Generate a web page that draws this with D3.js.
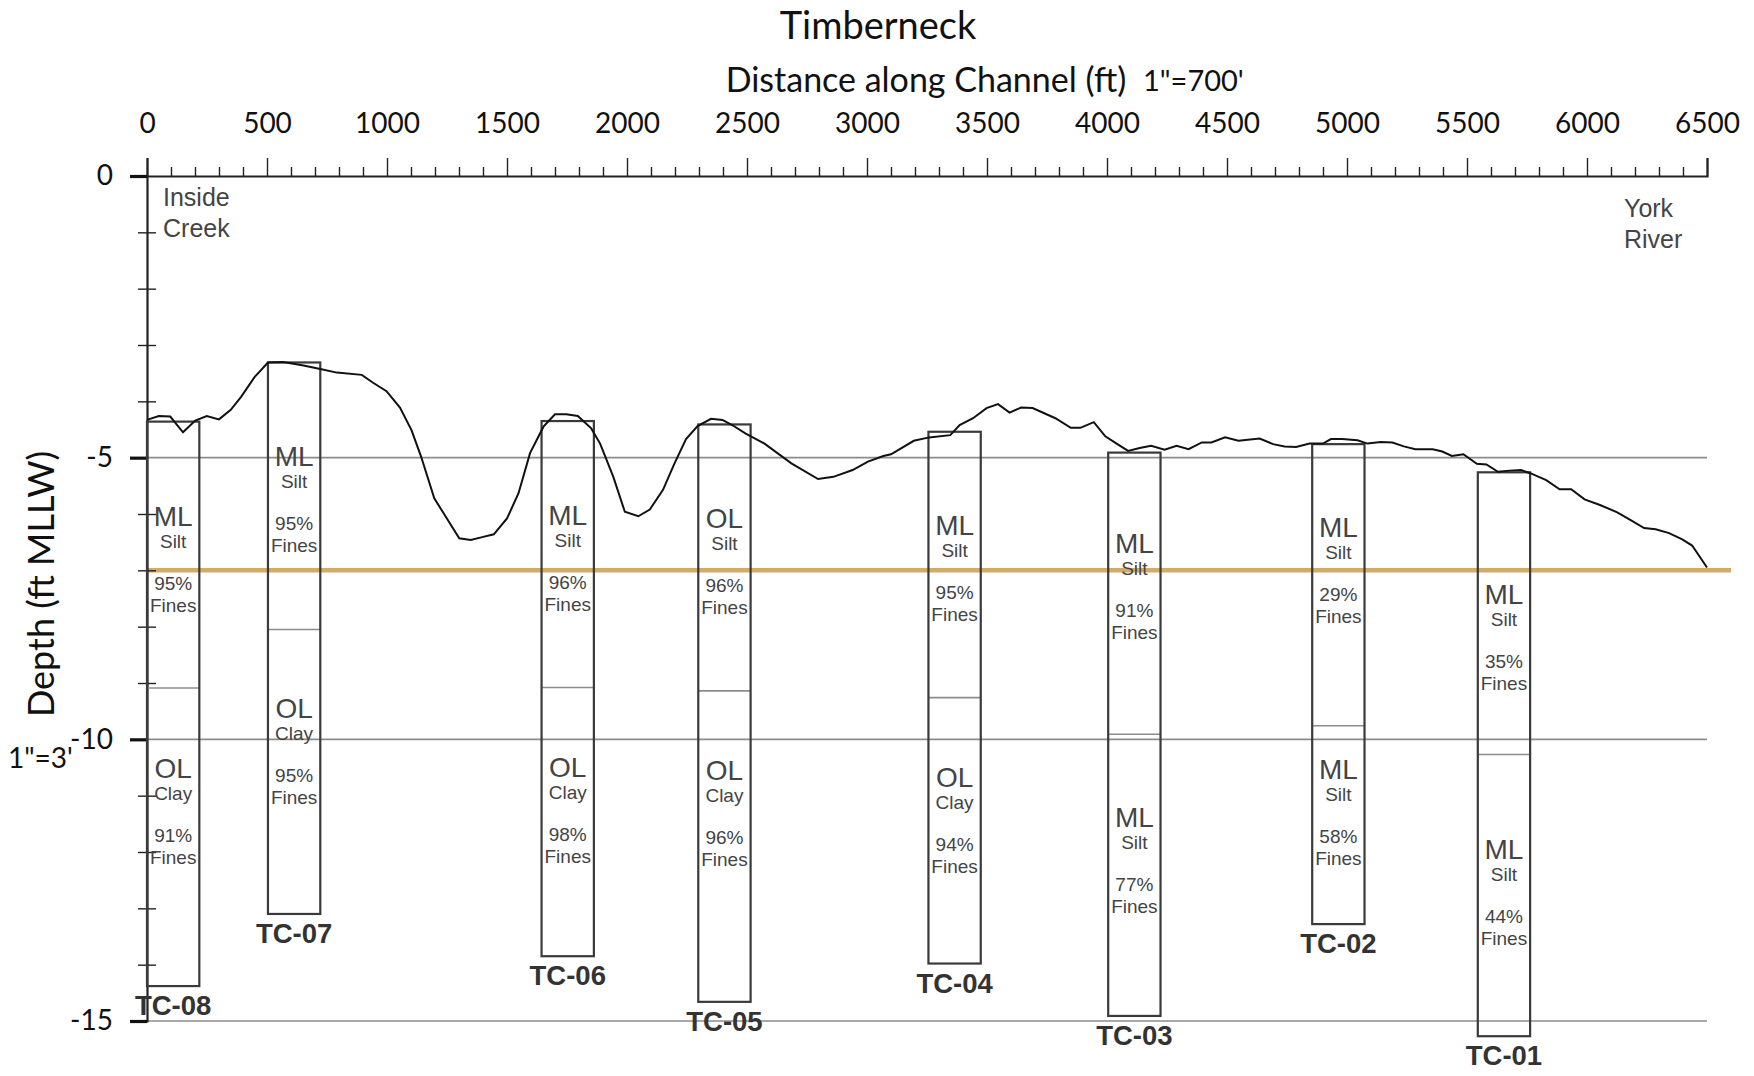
<!DOCTYPE html>
<html>
<head>
<meta charset="utf-8">
<script src="https://cdn.jsdelivr.net/npm/d3@7"></script>
<style>
  body { margin: 0; background: #fff; }
  svg { display: block; }
</style>
</head>
<body>
<div id="chart"></div>
<script>
// Timberneck channel profile with sediment core logs

const width = 1754;
const height = 1076;

// ---- data ----
const profileFt = [0, 49, 97, 150, 201, 249, 300, 349, 392, 448, 504, 567, 647, 727, 791, 895, 942, 998,
  1054, 1102, 1142, 1197, 1245, 1301, 1349, 1397, 1445, 1500, 1548, 1596, 1652, 1700, 1747, 1795, 1851,
  1888, 1943, 1991, 2047, 2095, 2150, 2198, 2246, 2294, 2350, 2398, 2438, 2493, 2573, 2685, 2796, 2860,
  2940, 3004, 3068, 3100, 3195, 3259, 3347, 3386, 3442, 3498, 3546, 3594, 3642, 3690, 3785, 3849, 3889,
  3945, 3993, 4040, 4088, 4136, 4184, 4240, 4290, 4340, 4395, 4435, 4492, 4548, 4636, 4692, 4740, 4788,
  4844, 4900, 4933, 4980, 5044, 5085, 5141, 5189, 5237, 5285, 5357, 5397, 5437, 5485, 5541, 5581, 5629,
  5677, 5725, 5766, 5830, 5886, 5934, 5990, 6054, 6126, 6182, 6238, 6286, 6342, 6397, 6438, 6500];
const profileDepth = [-4.33, -4.26, -4.27, -4.55, -4.34, -4.26, -4.32, -4.15, -3.92, -3.57, -3.31, -3.30,
  -3.36, -3.43, -3.49, -3.53, -3.67, -3.82, -4.11, -4.51, -4.98, -5.72, -6.05, -6.43, -6.46, -6.41, -6.36,
  -6.08, -5.63, -4.92, -4.45, -4.23, -4.23, -4.26, -4.48, -4.75, -5.34, -5.96, -6.04, -5.92, -5.57, -5.10,
  -4.67, -4.44, -4.31, -4.33, -4.42, -4.57, -4.75, -5.10, -5.38, -5.34, -5.22, -5.07, -4.97, -4.94, -4.70,
  -4.64, -4.60, -4.42, -4.30, -4.12, -4.05, -4.20, -4.11, -4.12, -4.30, -4.47, -4.47, -4.37, -4.62, -4.75,
  -4.88, -4.83, -4.79, -4.86, -4.79, -4.85, -4.73, -4.73, -4.64, -4.70, -4.66, -4.76, -4.80, -4.81, -4.75,
  -4.75, -4.67, -4.67, -4.69, -4.75, -4.72, -4.73, -4.80, -4.85, -4.85, -4.89, -4.97, -4.94, -5.11, -5.12,
  -5.25, -5.23, -5.22, -5.28, -5.40, -5.56, -5.56, -5.74, -5.84, -5.97, -6.11, -6.25, -6.27, -6.34, -6.45,
  -6.56, -6.95];

const coreIds = ['TC-08', 'TC-07', 'TC-06', 'TC-05', 'TC-04', 'TC-03', 'TC-02', 'TC-01'];
const coreLeftFt = [0, 504, 1644, 2297, 3256, 4005, 4855, 5545];
const coreTop = [-4.36, -3.31, -4.35, -4.41, -4.54, -4.91, -4.76, -5.26];
const coreBreak = [-9.09, -8.05, -9.08, -9.14, -9.26, -9.91, -9.76, -10.27];
const coreBottom = [-14.38, -13.10, -13.85, -14.66, -13.98, -14.91, -13.28, -15.27];
const upperCode = ['ML', 'ML', 'ML', 'OL', 'ML', 'ML', 'ML', 'ML'];
const upperSoil = ['Silt', 'Silt', 'Silt', 'Silt', 'Silt', 'Silt', 'Silt', 'Silt'];
const upperFines = [95, 95, 96, 96, 95, 91, 29, 35];
const upperLabelDepth = [-6.03, -4.97, -6.01, -6.07, -6.19, -6.51, -6.23, -7.42];
const lowerCode = ['OL', 'OL', 'OL', 'OL', 'OL', 'ML', 'ML', 'ML'];
const lowerSoil = ['Clay', 'Clay', 'Clay', 'Clay', 'Clay', 'Silt', 'Silt', 'Silt'];
const lowerFines = [91, 95, 98, 96, 94, 77, 58, 44];
const lowerLabelDepth = [-10.51, -9.45, -10.49, -10.55, -10.66, -11.38, -10.53, -11.94];

const xMajorTicks = d3.range(0, 6501, 500);
const xMinorTicks = d3.range(0, 6501, 100).filter(d => d % 500 !== 0);
const yMajorTicks = [0, -5, -10, -15];
const yMinorTicks = d3.range(-1, -15, -1).filter(d => d % 5 !== 0);
const gridDepths = [-5, -10, -15];
const designDepth = -7;

const CORE_WIDTH_FT = 218;

const svg = d3.select('#chart')
  .append('svg')
  .attr('width', width)
  .attr('height', height);

const x = d3.scaleLinear().domain([0, 6500]).range([147, 1707]);
const y = d3.scaleLinear().domain([0, -15]).range([176, 1021]);

const titleFont = 'Lato, "Open Sans", sans-serif';
const labelFont = '"Liberation Sans", Arial, sans-serif';

// grid lines
svg.append('g')
  .selectAll('line')
  .data(gridDepths)
  .enter().append('line')
  .attr('x1', x(0))
  .attr('x2', x(6500))
  .attr('y1', d => y(d))
  .attr('y2', d => y(d))
  .attr('stroke', '#8c8c8c')
  .attr('stroke-width', 1.6);

// design depth line
svg.append('line')
  .attr('x1', x(0))
  .attr('x2', x(6600))
  .attr('y1', y(designDepth))
  .attr('y2', y(designDepth))
  .attr('stroke', '#d4aa68')
  .attr('stroke-width', 4.5);

// x axis (top)
const xMajor = svg.append('g')
  .attr('transform', `translate(0,${y(0)})`)
  .call(d3.axisTop(x).tickValues(xMajorTicks).tickSize(18).tickPadding(25).tickFormat(d => String(d)));
const xMinor = svg.append('g')
  .attr('transform', `translate(0,${y(0)})`)
  .call(d3.axisTop(x).tickValues(xMinorTicks).tickSize(9).tickFormat(''));
xMinor.select('.domain').remove();
xMajor.select('.domain').attr('stroke', '#222').attr('stroke-width', 2.2);
xMajor.selectAll('.tick line').attr('stroke', '#222').attr('stroke-width', 1.4);
xMinor.selectAll('.tick line').attr('stroke', '#222').attr('stroke-width', 1.4);
xMajor.selectAll('.tick text')
  .attr('font-family', titleFont)
  .attr('font-size', 28)
  .attr('fill', '#111');

// y axis (left)
const yMajor = svg.append('g')
  .attr('transform', `translate(${x(0)},0)`)
  .call(d3.axisLeft(y).tickValues(yMajorTicks).tickSize(17).tickPadding(17).tickFormat(d => String(d)));
yMajor.select('.domain').attr('stroke', '#222').attr('stroke-width', 2.2);
yMajor.selectAll('.tick line').attr('stroke', '#111').attr('stroke-width', 3.2);
yMajor.selectAll('.tick text')
  .attr('font-family', titleFont)
  .attr('font-size', 28)
  .attr('fill', '#111');
[d3.axisLeft, d3.axisRight].forEach(ax => {
  const gm = svg.append('g')
    .attr('transform', `translate(${x(0)},0)`)
    .call(ax(y).tickValues(yMinorTicks).tickSize(9).tickFormat(''));
  gm.select('.domain').remove();
  gm.selectAll('.tick line').attr('stroke', '#222').attr('stroke-width', 1.4);
});

// cores
const cores = coreIds.map((id, i) => ({
  id,
  left: coreLeftFt[i],
  top: coreTop[i],
  brk: coreBreak[i],
  bottom: coreBottom[i],
  layers: [
    { code: upperCode[i], soil: upperSoil[i], fines: upperFines[i], depth: upperLabelDepth[i] },
    { code: lowerCode[i], soil: lowerSoil[i], fines: lowerFines[i], depth: lowerLabelDepth[i] }
  ]
}));

const coreG = svg.append('g')
  .selectAll('g')
  .data(cores)
  .enter().append('g');

coreG.append('line')
  .attr('x1', d => x(d.left))
  .attr('x2', d => x(d.left + CORE_WIDTH_FT))
  .attr('y1', d => y(d.brk))
  .attr('y2', d => y(d.brk))
  .attr('stroke', '#8c8c8c')
  .attr('stroke-width', 1.6);

coreG.append('rect')
  .attr('x', d => x(d.left))
  .attr('y', d => y(d.top))
  .attr('width', d => x(d.left + CORE_WIDTH_FT) - x(d.left))
  .attr('height', d => y(d.bottom) - y(d.top))
  .attr('fill', 'none')
  .attr('stroke', '#3a3a3a')
  .attr('stroke-width', 2.2);

coreG.append('text')
  .attr('x', d => x(d.left + CORE_WIDTH_FT / 2))
  .attr('y', d => y(d.bottom) + 29)
  .attr('text-anchor', 'middle')
  .attr('font-family', labelFont)
  .attr('font-weight', 'bold')
  .attr('font-size', 27.5)
  .attr('fill', '#333')
  .text(d => d.id);

coreG.each(function(d) {
  const g = d3.select(this);
  const cx = x(d.left + CORE_WIDTH_FT / 2);
  d.layers.forEach(l => {
    const cy = y(l.depth);
    const t = g.append('g').attr('font-family', labelFont).attr('fill', '#444').attr('text-anchor', 'middle');
    t.append('text').attr('x', cx).attr('y', cy + 10).attr('font-size', 28).text(l.code);
    t.append('text').attr('x', cx).attr('y', cy + 32).attr('font-size', 19).text(l.soil);
    t.append('text').attr('x', cx).attr('y', cy + 74).attr('font-size', 19).text(l.fines + '%');
    t.append('text').attr('x', cx).attr('y', cy + 96).attr('font-size', 19).text('Fines');
  });
});

// channel bottom profile
const profile = profileFt.map((f, i) => [f, profileDepth[i]]);
svg.append('path')
  .datum(profile)
  .attr('d', d3.line().x(d => x(d[0])).y(d => y(d[1])))
  .attr('fill', 'none')
  .attr('stroke', '#111')
  .attr('stroke-width', 2);

// titles and notes
svg.append('text')
  .attr('x', 878).attr('y', 39)
  .attr('text-anchor', 'middle')
  .attr('font-family', titleFont)
  .attr('font-size', 38)
  .attr('fill', '#111')
  .text('Timberneck');

svg.append('text')
  .attr('x', 926).attr('y', 92)
  .attr('text-anchor', 'middle')
  .attr('font-family', titleFont)
  .attr('font-size', 34)
  .attr('fill', '#111')
  .text('Distance along Channel (ft)');

svg.append('text')
  .attr('x', 1143).attr('y', 91)
  .attr('font-family', titleFont)
  .attr('font-size', 29)
  .attr('fill', '#111')
  .text('1"=700\'');

svg.append('text')
  .attr('transform', 'translate(54,584) rotate(-90)')
  .attr('text-anchor', 'middle')
  .attr('font-family', titleFont)
  .attr('font-size', 36)
  .attr('fill', '#111')
  .text('Depth (ft MLLW)');

svg.append('text')
  .attr('x', 8).attr('y', 768)
  .attr('font-family', titleFont)
  .attr('font-size', 28)
  .attr('fill', '#111')
  .text('1"=3\'');

const notes = [
  { lines: ['Inside', 'Creek'], x: 163, y: 206 },
  { lines: ['York', 'River'], x: 1624, y: 217 }
];
notes.forEach(n => {
  n.lines.forEach((s, i) => {
    svg.append('text')
      .attr('x', n.x).attr('y', n.y + i * 31)
      .attr('font-family', labelFont)
      .attr('font-size', 25)
      .attr('fill', '#444')
      .text(s);
  });
});
</script>
</body>
</html>
